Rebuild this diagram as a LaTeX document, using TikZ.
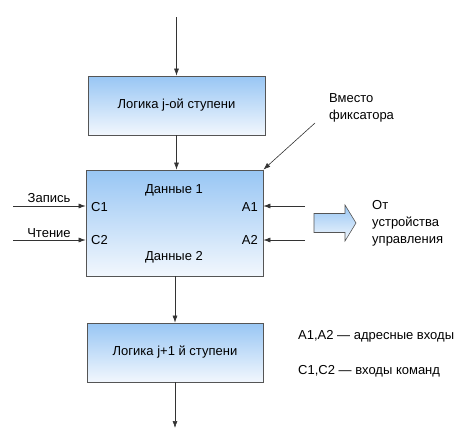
\documentclass[tikz,border=0pt]{standalone}
\usepackage{fontspec}
\setmainfont{Liberation Sans}
\usetikzlibrary{arrows.meta}
\definecolor{boxtop}{HTML}{98C6F4}
\definecolor{boxbot}{HTML}{F2F7FD}
\definecolor{edge}{HTML}{555555}
\begin{document}
\begin{tikzpicture}[x=1pt,y=-1pt,
  font=\fontsize{13}{17}\selectfont,
  blk/.style={draw=edge, line width=0.8pt, top color=boxtop, bottom color=boxbot, inner sep=0pt},
  arr/.style={draw=black!80, line width=0.6pt, -{Latex[length=7pt,width=5pt]}},
  lbl/.style={inner sep=0pt}]
\useasboundingbox (0,0) rectangle (468,447);
\node[blk, minimum width=177pt, minimum height=59pt] (b1) at (176.5,105.5) {Логика j-ой ступени};
\node[blk, minimum width=177pt, minimum height=106pt] (b2) at (174.5,223) {};
\node[blk, minimum width=176pt, minimum height=59pt] (b3) at (175,352.5) {Логика j+1 й ступени};
\node[lbl] (d1) at (174,190) {Данные 1};
\node[lbl] (d2) at (174,257) {Данные 2};
\node[lbl, anchor=west] (c1) at (91,207) {C1};
\node[lbl, anchor=west] (c2) at (91,240) {C2};
\node[lbl, anchor=east] (a1) at (258,207) {A1};
\node[lbl, anchor=east] (a2) at (258,240) {A2};
\coordinate (top) at (176.5,17);
\coordinate (bot) at (175,428);
\coordinate (inC1) at (13,206);
\coordinate (inC2) at (13,240);
\coordinate (inA1) at (305,206);
\coordinate (inA2) at (305,240);
\coordinate (fix) at (315,123);
\draw[arr] (top) -- (b1.north);
\draw[arr] (b1.south) -- (b1.south |- b2.north);
\draw[arr] (b2.south -| b3.north) -- (b3.north);
\draw[arr] (b3.south) -- (bot);
\draw[arr] (inC1) -- (inC1 -| b2.west);
\draw[arr] (inC2) -- (inC2 -| b2.west);
\draw[arr] (inA1) -- (inA1 -| b2.east);
\draw[arr] (inA2) -- (inA2 -| b2.east);
\draw[arr] (fix) -- (b2.north east);
\node[lbl] (zap) at (49,198) {Запись};
\node[lbl] (cht) at (49,233) {Чтение};
\node[lbl, anchor=west, align=left] (vm) at (329,108) {Вместо\\фиксатора};
\path[draw=edge, line width=0.6pt, top color=boxtop, bottom color=boxbot]
  (314,213.5) -- (345,213.5) -- (345,205) -- (356,223) -- (345,241) -- (345,232.5) -- (314,232.5) -- cycle;
\node[lbl, anchor=west, align=left] (ot) at (372,223) {От\\устройства\\управления};
\node[lbl, anchor=west] (leg1) at (298,336) {A1,A2 — адресные входы};
\node[lbl, anchor=west] (leg2) at (298,371) {C1,C2 — входы команд};
\end{tikzpicture}
\end{document}
